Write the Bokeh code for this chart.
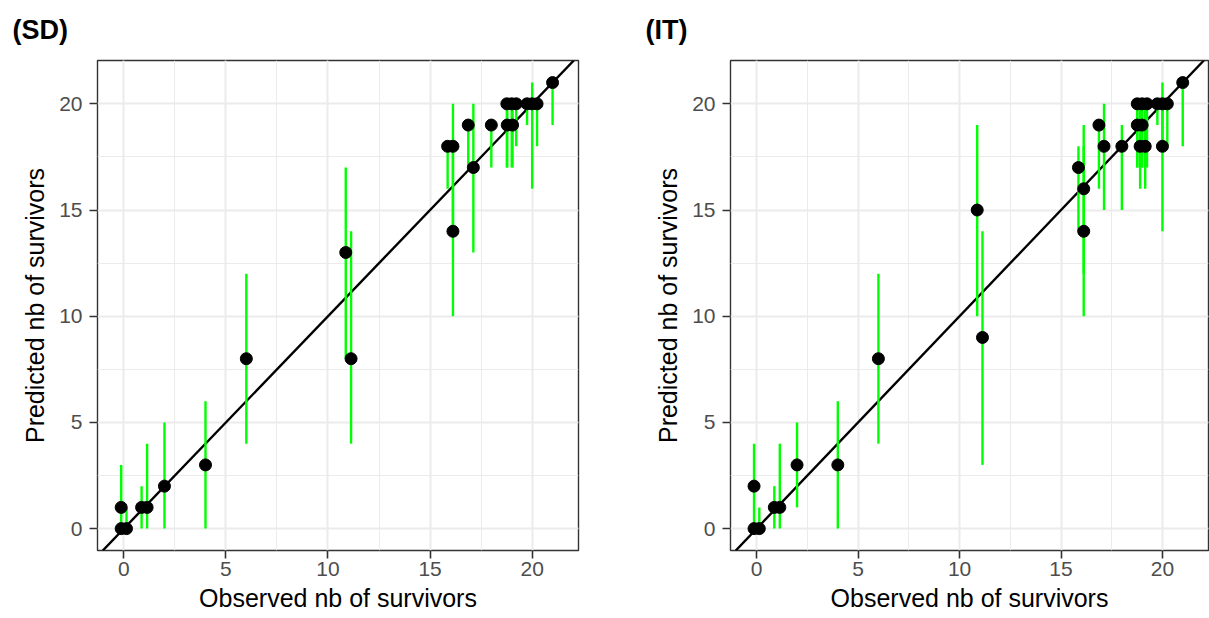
from bokeh.plotting import figure
from bokeh.layouts import row
from bokeh.models import Slope, SingleIntervalTicker, Range1d, ColumnDataSource
from bokeh.embed import file_html
from bokeh.resources import INLINE

# ---------------- data ----------------
panel_titles = ["(SD)", "(IT)"]
x_label = "Observed nb of survivors"
y_label = "Predicted nb of survivors"
tick_interval = 5

# (SD) panel: observed (jittered), predicted median, lower and upper bounds
sd_obs = [-0.13, -0.13, 0.13, 0.87, 1.14, 1.99, 4.0, 6.0, 10.87, 11.13, 15.86, 16.12, 16.12,
          16.87, 17.12, 18.0, 18.76, 19.0, 19.22, 18.78, 19.04, 19.75, 20.0, 20.24, 21.0]
sd_pred = [1, 0, 0, 1, 1, 2, 3, 8, 13, 8, 18, 18, 14,
           19, 17, 19, 20, 20, 20, 19, 19, 20, 20, 20, 21]
sd_lo = [0, 0, 0, 0, 0, 0, 0, 4, 8, 4, 16, 14, 10,
         17, 13, 17, 17, 17, 18, 17, 17, 19, 16, 18, 19]
sd_hi = [3, 0, 1, 2, 4, 5, 6, 12, 17, 14, 18, 20, 18,
         19, 20, 19, 20, 20, 20, 20, 20, 20, 21, 20, 21]

# (IT) panel
it_obs = [-0.13, -0.13, 0.13, 0.87, 1.14, 1.99, 4.0, 6.0, 10.87, 11.13, 15.86, 16.12, 16.12,
          16.87, 17.12, 18.0, 18.76, 19.0, 19.24, 18.76, 19.0, 18.9, 19.15, 19.75, 20.0, 20.0,
          20.24, 21.0]
it_pred = [2, 0, 0, 1, 1, 3, 3, 8, 15, 9, 17, 16, 14,
           19, 18, 18, 20, 20, 20, 19, 19, 18, 18, 20, 20, 18, 20, 21]
it_lo = [0, 0, 0, 0, 0, 1, 0, 4, 10, 3, 14, 12, 10,
         16, 15, 15, 17, 17, 17, 17, 17, 16, 16, 19, 18, 14, 18, 18]
it_hi = [4, 0, 1, 2, 4, 5, 6, 12, 19, 14, 18, 19, 18,
         19, 20, 19, 20, 20, 20, 20, 20, 20, 20, 20, 21, 20, 20, 21]

FONT = "Liberation Sans"


def make_panel(title, obs, pred, lo, hi, width, border_left, border_right):
    p = figure(width=width, height=618,
               x_range=Range1d(-1.29, 22.27), y_range=Range1d(-1.03, 22.04),
               output_backend="svg", toolbar_location=None,
               min_border_left=border_left, min_border_right=border_right,
               min_border_top=60, min_border_bottom=68,
               background_fill_color="white", border_fill_color="white")
    p.outline_line_color = "#333333"
    p.outline_line_width = 1.4

    # title
    p.title.text = title
    p.title.align = "left"
    p.title.vertical_align = "top"
    p.title.offset = -85
    p.title.standoff = 28
    p.title.text_font = FONT
    p.title.text_font_style = "bold"
    p.title.text_font_size = "27px"
    p.title.text_color = "black"

    for ax in (p.xaxis[0], p.yaxis[0]):
        ax.ticker = SingleIntervalTicker(interval=tick_interval, num_minor_ticks=2)
        ax.axis_line_color = None
        ax.major_tick_in = 0
        ax.major_tick_out = 8
        ax.major_tick_line_color = "#333333"
        ax.major_tick_line_width = 1.6
        ax.minor_tick_line_color = None
        ax.major_label_text_font = FONT
        ax.major_label_text_font_size = "21px"
        ax.major_label_text_color = "#4D4D4D"
        ax.axis_label_text_font = FONT
        ax.axis_label_text_font_size = "25px"
        ax.axis_label_text_font_style = "normal"
        ax.axis_label_text_color = "black"
    p.xaxis.major_label_standoff = 3
    p.yaxis.major_label_standoff = 7
    p.xaxis.axis_label_standoff = 5
    p.yaxis.axis_label_standoff = 7
    p.xaxis.axis_label = x_label
    p.yaxis.axis_label = y_label

    for g in p.grid:
        g.grid_line_color = "#EBEBEB"
        g.grid_line_width = 2
        g.minor_grid_line_color = "#EBEBEB"
        g.minor_grid_line_width = 1

    src = ColumnDataSource(dict(obs=obs, pred=pred, lo=lo, hi=hi))
    p.add_layout(Slope(gradient=1, y_intercept=0, line_color="black",
                       line_width=2.4, level="underlay"))
    p.segment(x0="obs", y0="lo", x1="obs", y1="hi", source=src,
              line_color="#00FF00", line_width=2.4)
    p.scatter(x="obs", y="pred", source=src, size=12,
              fill_color="black", line_color="black")
    return p


p1 = make_panel(panel_titles[0], sd_obs, sd_pred, sd_lo, sd_hi, 600, 97, 22)
p2 = make_panel(panel_titles[1], it_obs, it_pred, it_lo, it_hi, 609, 130, 1)

layout = row(p1, p2)
open("out.html", "w").write(file_html(layout, INLINE))
